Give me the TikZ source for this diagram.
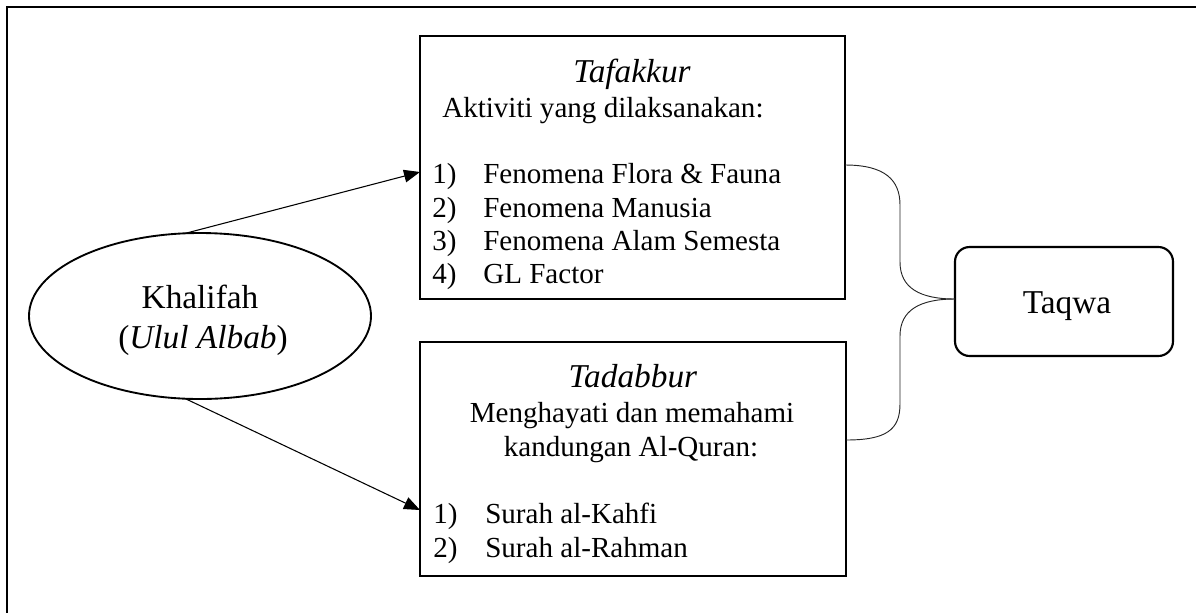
\documentclass[tikz,border=0pt]{standalone}
\usepackage{fontspec}
\setmainfont{Liberation Serif}
\usetikzlibrary{shapes.geometric,arrows.meta,calc}
\tikzset{
  boxnode/.style={draw, line width=1.6pt, inner sep=0pt, outer sep=0pt},
  bodytext/.style={inner sep=0pt, anchor=base, font=\fontsize{21.8}{25}\selectfont},
  bodyleft/.style={inner sep=0pt, anchor=base west, font=\fontsize{21.8}{25}\selectfont},
  titletext/.style={inner sep=0pt, anchor=base, font=\fontsize{25}{28}\selectfont},
  arrowline/.style={line width=0.8pt, -{Triangle[length=12pt,width=9.5pt]}},
  braceline/.style={line width=0.7pt, draw=black!85}
}
\begin{document}
\begin{tikzpicture}[x=0.75pt,y=-0.75pt]
\useasboundingbox (0,0) rectangle (1196,612);
% frame
\draw[line width=1.6pt] (7,640) -- (7,7) -- (1230,7);

% ellipse
\node[boxnode, ellipse, line width=1.4pt, minimum width=256.5pt, minimum height=124.5pt] (khal) at (200,316) {};
\node[titletext] (khalA) at (200,308) {Khalifah};
\node[titletext] (khalB) at (203,348) {(\textit{Ulul Albab})};

% Tafakkur box
\node[boxnode, minimum width=318.75pt, minimum height=197.25pt] (taf) at (632.5,167.5) {};
\node[titletext] (tafT) at (632,82) {\textit{Tafakkur}};
\node[bodyleft] (tafS) at (442,117) {Aktiviti yang dilaksanakan:};
\node[bodyleft] (tafn1) at (432,183) {1)};
\node[bodyleft] (tafn2) at (432,217) {2)};
\node[bodyleft] (tafn3) at (432,250) {3)};
\node[bodyleft] (tafn4) at (432,283) {4)};
\node[bodyleft] (tafi1) at (483,183) {Fenomena Flora \& Fauna};
\node[bodyleft] (tafi2) at (483,217) {Fenomena Manusia};
\node[bodyleft] (tafi3) at (483,250) {Fenomena Alam Semesta};
\node[bodyleft] (tafi4) at (483,283) {GL Factor};

% Tadabbur box
\node[boxnode, minimum width=319.5pt, minimum height=175.5pt] (tad) at (633,459) {};
\node[titletext] (tadT) at (633,387) {\textit{Tadabbur}};
\node[bodytext] (tadS1) at (632,422) {Menghayati dan memahami};
\node[bodytext] (tadS2) at (631,456) {kandungan Al-Quran:};
\node[bodyleft] (tadn1) at (433,523) {1)};
\node[bodyleft] (tadn2) at (433,557) {2)};
\node[bodyleft] (tadi1) at (485,523) {Surah al-Kahfi};
\node[bodyleft] (tadi2) at (485,557) {Surah al-Rahman};

% Taqwa box
\node[boxnode, rounded corners=11pt, minimum width=163.5pt, minimum height=81.75pt] (taq) at (1064,301.5) {};
\node[titletext] (taqT) at (1067,313) {Taqwa};

% arrows
\draw[arrowline] (khal.100) -- ($(taf.west)+(0,4.5)$);
\draw[arrowline] (khal.260) -- ($(tad.west)+(0,51)$);

% brace connectors
\coordinate (a1) at ($(taf.east)+(0,-2.5)$);
\coordinate (b1) at ($(taq.west)+(0,-2.5)$);
\coordinate (c1) at ($(tad.east)+(0,-19)$);
\draw[braceline] (a1) .. controls ($(a1)+(40,0)$) and (900,180) .. (900,205) -- (900,262)
  .. controls (900,288) and ($(b1)+(-35,0)$) .. (b1);
\draw[braceline] (b1) .. controls ($(b1)+(-35,0)$) and (900,310) .. (900,336) -- (900,404)
  .. controls (900,430) and ($(c1)+(40,0)$) .. (c1);
\end{tikzpicture}
\end{document}
